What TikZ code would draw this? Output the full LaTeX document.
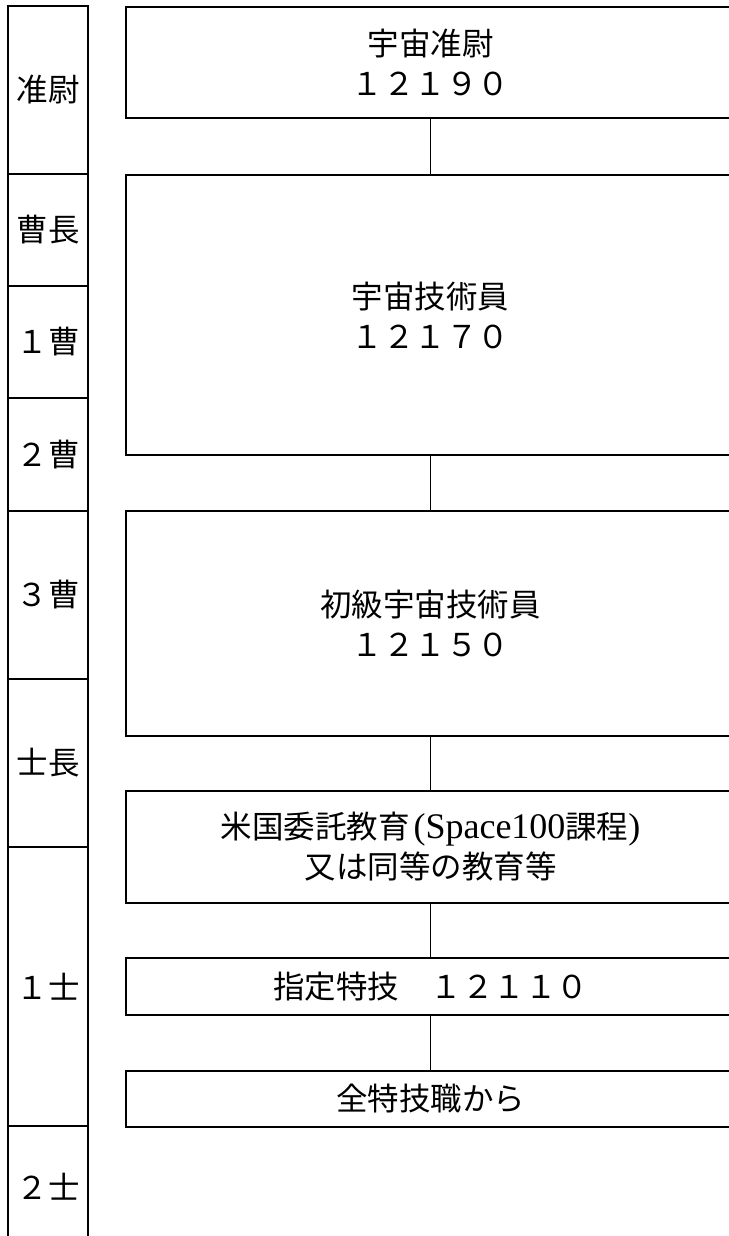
\documentclass[tikz,border=0pt]{standalone}
\usepackage{fontspec}
\setmainfont{Noto Sans CJK JP}
\newfontfamily\latserif{Liberation Serif}
\newcommand{\latpart}[1]{{\latserif\fontsize{36}{40}\selectfont #1}}
\begin{document}
\begin{tikzpicture}[x=1pt,y=-1pt,line width=1.7pt,
  every node/.style={font=\fontsize{31.5}{40}\selectfont},
  cell/.style={draw,rectangle,minimum width=80pt,inner sep=0pt,outer sep=0pt},
  box/.style={draw,rectangle,minimum width=609pt,inner sep=0pt,outer sep=0pt,align=center},
  link/.style={draw,line width=1.9pt}]
\useasboundingbox (0,0) rectangle (728,1236);
\fill[white] (0,0) rectangle (728,1236);
% rank column
\node[cell,minimum height=168pt] (r1) at (48,90) {准尉};
\node[cell,minimum height=112pt] (r2) at (48,230) {曹長};
\node[cell,minimum height=112pt] (r3) at (48,342) {１曹};
\node[cell,minimum height=113pt] (r4) at (48,454.5) {２曹};
\node[cell,minimum height=168pt] (r5) at (48,595) {３曹};
\node[cell,minimum height=168pt] (r6) at (48,763) {士長};
\node[cell,minimum height=279pt] (r7) at (48,986.5) {１士};
\node[cell,minimum height=122pt] (r8) at (48,1187) {２士};
% career boxes
\node[box,minimum height=111pt] (b1) at (430.5,62.5) {宇宙准尉\\１２１９０};
\node[box,minimum height=280pt] (b2) at (430.5,315) {宇宙技術員\\１２１７０};
\node[box,minimum height=225pt] (b3) at (430.5,623.5) {初級宇宙技術員\\１２１５０};
\node[box,minimum height=112pt] (b4) at (430.5,847) {米国委託教育\hspace{4pt}\latpart{(Space100}課程\latpart{)}\\又は同等の教育等};
\node[box,minimum height=57pt] (b5) at (430.5,986.5) {指定特技　１２１１０};
\node[box,minimum height=56pt] (b6) at (430.5,1099) {全特技職から};
% connectors
\draw[link] (b1.south) -- (b2.north);
\draw[link] (b2.south) -- (b3.north);
\draw[link] (b3.south) -- (b4.north);
\draw[link] (b4.south) -- (b5.north);
\draw[link] (b5.south) -- (b6.north);
\end{tikzpicture}
\end{document}
